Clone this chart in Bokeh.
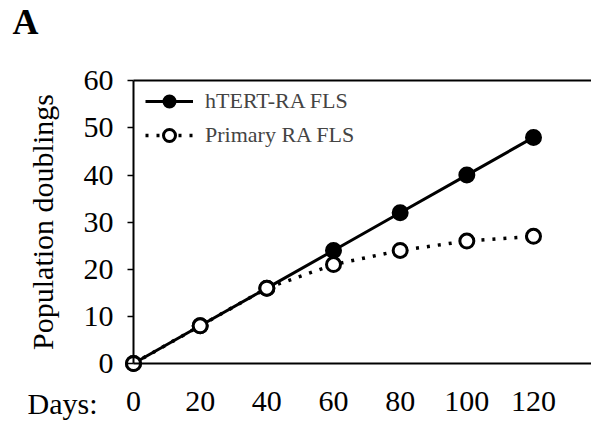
from bokeh.plotting import figure
from bokeh.models import Range1d, Label, Legend, LegendItem, FixedTicker, LinearAxis
from bokeh.embed import file_html
from bokeh.resources import INLINE

days = [0, 20, 40, 60, 80, 100, 120]
htert = [0, 8, 16, 24, 32, 40, 48]
primary = [0, 8, 16, 21, 24, 26, 27]
x_ticks = [0, 20, 40, 60, 80, 100, 120]
y_ticks = [0, 10, 20, 30, 40, 50, 60]

FONT = "Liberation Serif"

p = figure(width=591, height=423, output_backend="svg", toolbar_location=None,
           x_range=Range1d(-39.9, 137.4), y_range=Range1d(-12.74, 77.07),
           x_axis_type=None, y_axis_type=None,
           min_border_left=0, min_border_right=0, min_border_top=0, min_border_bottom=0)
p.outline_line_color = None
p.grid.visible = False
p.background_fill_color = "white"
p.border_fill_color = "white"

# x axis (fixed at y = 0)
xa = LinearAxis(fixed_location=0, bounds=(0, 140), ticker=FixedTicker(ticks=x_ticks))
xa.major_tick_out = 0
xa.major_tick_in = 0
xa.minor_tick_out = 0
xa.minor_tick_in = 0
xa.axis_line_width = 2
xa.major_label_standoff = 29
xa.major_label_text_font = FONT
xa.major_label_text_font_size = "30px"
xa.major_label_text_color = "black"
p.add_layout(xa, "below")

# top frame line (y = 60)
ta = LinearAxis(fixed_location=60, bounds=(0, 140), ticker=FixedTicker(ticks=[]))
ta.major_tick_out = 0
ta.major_tick_in = 0
ta.minor_tick_out = 0
ta.minor_tick_in = 0
ta.axis_line_width = 2
ta.major_label_text_font_size = "0px"
p.add_layout(ta, "above")

# y axis (fixed at x = 0)
ya = LinearAxis(fixed_location=0, bounds=(0, 60), ticker=FixedTicker(ticks=y_ticks))
ya.major_tick_out = 6
ya.major_tick_in = 0
ya.minor_tick_out = 0
ya.minor_tick_in = 0
ya.axis_line_width = 2
ya.major_tick_line_width = 1.5
ya.major_label_standoff = 14
ya.major_label_text_font = FONT
ya.major_label_text_font_size = "30px"
ya.major_label_text_color = "black"
ya.axis_label = "Population doublings"
ya.axis_label_text_font = FONT
ya.axis_label_text_font_size = "30px"
ya.axis_label_text_font_style = "normal"
ya.axis_label_standoff = 22
ya.axis_label_text_color = "black"
p.add_layout(ya, "left")

# series
l1 = p.line(days, htert, line_color="black", line_width=3)
s1 = p.scatter(days, htert, size=15, marker="circle", fill_color="black", line_color="black", line_width=2)
l2 = p.line(days, primary, line_color="black", line_width=3.5, line_dash="3 8")
s2 = p.scatter(days, primary, size=14, marker="circle", fill_color="white", line_color="black", line_width=3)

legend = Legend(items=[LegendItem(label="hTERT-RA FLS", renderers=[l1, s1]),
                       LegendItem(label="Primary RA FLS", renderers=[l2, s2])],
                location=(145, 273), glyph_width=48, glyph_height=30, label_height=30,
                label_standoff=12, spacing=4, padding=0, margin=0,
                label_text_font=FONT, label_text_font_size="22px",
                background_fill_alpha=0, border_line_color=None)
p.add_layout(legend)

p.add_layout(Label(x=-31.8, y=-8.45, text="Days:", text_font=FONT, text_font_size="30px",
                   text_baseline="alphabetic", text_align="left", text_color="black"))
p.add_layout(Label(x=-36.3, y=72.5, text="A", text_font=FONT, text_font_size="36px",
                   text_font_style="bold", text_baseline="alphabetic", text_align="left",
                   text_color="black"))

open("out.html", "w").write(file_html(p, INLINE))
